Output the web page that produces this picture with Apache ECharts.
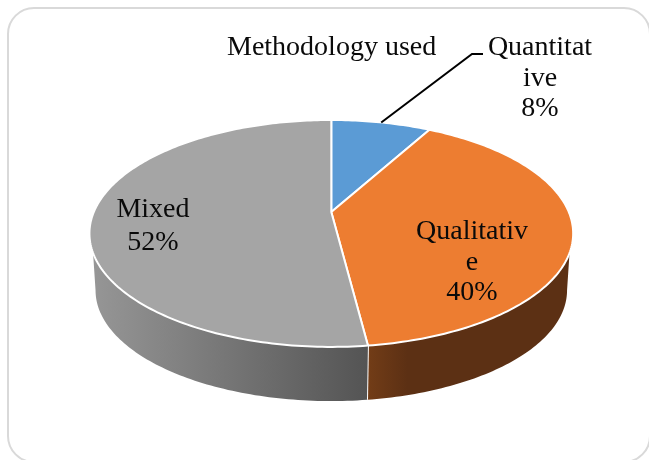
<!DOCTYPE html>
<html><head><meta charset="utf-8">
<style>html,body{margin:0;padding:0;background:#fff}#c{width:649px;height:460px}</style>
<script src="https://cdn.jsdelivr.net/npm/echarts@6/dist/echarts.min.js"></script>
</head><body><div id="c"></div>
<script>
const chartTitle = 'Methodology used';
const categories = ['Quantitative', 'Qualitative', 'Mixed'];
const values = [8, 40, 52];
const wrappedNames = [['Quantitat', 'ive'], ['Qualitativ', 'e'], ['Mixed']];
const topColors = ['#5B9BD5', '#ED7D31', '#A5A5A5'];
const sideStops = [
  ['#3d6a94', '#3d6a94'],
  ['#733d17', '#5c3014'],
  ['#969696', '#545454']
];
const FONT = '"Liberation Serif", serif';
const FS = 28;
const cx = 331.3, k = 0.189;
const topDisc = { y0: 212, a: 237.5, b: 109.4 };
const baseDisc = { y0: 269.5, a: 231.5, b: 106.7 };
const VIS_TOP = [110.5, 249.5], VIS_BASE = [100.9, 259.1];
const labelAnchors = [[540, 48], [472, 232], [153, 210]];

const total = values.reduce((a, b) => a + b, 0);
function project(deg, d) {
  const t = deg * Math.PI / 180, X = Math.sin(t), Y = Math.cos(t), w = 1 + k * Y;
  return [cx + d.a * X / w, d.y0 - d.b * Y / w];
}
function arc(from, to, d) {
  const pts = [], n = Math.max(1, Math.ceil(Math.abs(to - from)));
  for (let i = 0; i <= n; i++) pts.push(project(from + (to - from) * i / n, d));
  return pts;
}
const starts = [];
values.reduce((acc, v, i) => { starts[i] = acc; return acc + v; }, 0);

function renderItem(params, api) {
  const i = params.dataIndex;
  const a0 = starts[i] / total * 360, a1 = a0 + api.value(0) / total * 360;
  const children = [];
  const t0 = Math.max(a0, VIS_TOP[0]), t1 = Math.min(a1, VIS_TOP[1]);
  if (t1 > t0) {
    const b0 = Math.max(a0, VIS_BASE[0]), b1 = Math.min(a1, VIS_BASE[1]);
    const poly = arc(t0, t1, topDisc).concat(arc(b1, b0, baseDisc));
    const xs = poly.map(p => p[0]);
    const minX = Math.min(...xs), maxX = Math.max(...xs);
    const stops = i === 1
      ? [{ offset: 0, color: sideStops[i][0] }, { offset: 0.2, color: sideStops[i][1] }, { offset: 1, color: sideStops[i][1] }]
      : [{ offset: 0, color: sideStops[i][0] }, { offset: 1, color: sideStops[i][1] }];
    children.push({
      type: 'polygon', shape: { points: poly },
      style: { fill: new echarts.graphic.LinearGradient(minX, 0, maxX, 0, stops, true) }
    });
    if (a1 < VIS_TOP[1] && a1 > VIS_TOP[0]) {
      const p = project(a1, topDisc), q = project(a1, baseDisc);
      children.push({ type: 'line', shape: { x1: p[0], y1: p[1], x2: q[0], y2: q[1] },
        style: { stroke: '#fff', lineWidth: 2 } });
    }
  }
  const c = [cx, topDisc.y0];
  children.push({
    type: 'polygon', shape: { points: [c].concat(arc(a0, a1, topDisc)) },
    style: { fill: topColors[i], stroke: '#fff', lineWidth: 2, lineJoin: 'round' }
  });
  return { type: 'group', children };
}

function renderLabels(params, api) {
  const i = params.dataIndex;
  const lines = wrappedNames[i].concat([api.value(0) + '%']);
  const [lx, ly] = labelAnchors[i];
  const lh = i === 2 ? 33 : 30.5;
  const children = lines.map((s, j) => ({
    type: 'text',
    style: { text: s, x: lx, y: ly + j * lh, align: 'center', verticalAlign: 'middle',
      font: FS + 'px ' + FONT, fill: '#0a0a0a' }
  }));
  if (i === 0) {
    const mid = (starts[i] + api.value(0) / 2) / total * 360;
    const p = project(mid, topDisc);
    children.push({ type: 'polyline',
      shape: { points: [p, [472, 54], [483, 54]] },
      style: { stroke: '#000', lineWidth: 2, fill: 'none' } });
  }
  return { type: 'group', children };
}

const chart = echarts.init(document.getElementById('c'), null, { renderer: 'canvas' });
chart.setOption({
  animation: false,
  backgroundColor: '#fff',
  title: { text: chartTitle, left: 222, top: 29,
    textStyle: { fontFamily: FONT, fontSize: FS, fontWeight: 'normal', color: '#0a0a0a' } },
  graphic: [{ type: 'rect', silent: true, z: -1,
    shape: { x: 8, y: 8, width: 642, height: 454, r: 26 },
    style: { fill: '#fff', stroke: '#d9d9d9', lineWidth: 2 } }],
  series: [
    { type: 'custom', coordinateSystem: 'none', renderItem, silent: true, z: 2,
      data: values.map((v, i) => ({ name: categories[i], value: [v] })) },
    { type: 'custom', coordinateSystem: 'none', renderItem: renderLabels, silent: true, z: 3,
      data: values.map((v, i) => ({ name: categories[i], value: [v] })) }
  ]
});
</script></body></html>
